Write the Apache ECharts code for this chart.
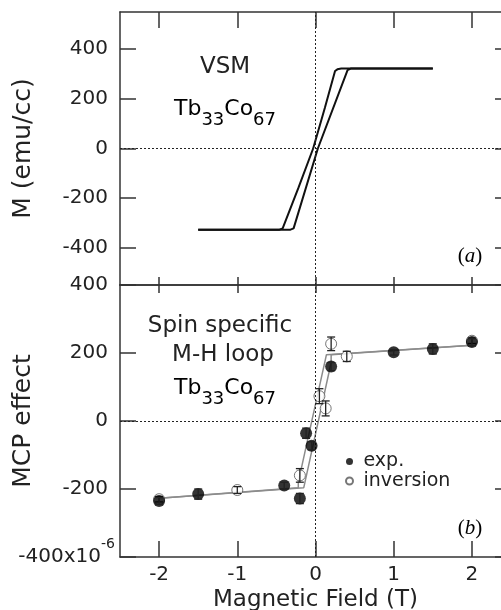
<!DOCTYPE html>
<html>
<head>
<meta charset="utf-8">
<script src="https://cdn.jsdelivr.net/npm/echarts@6/dist/echarts.min.js"></script>
<style>
html,body{margin:0;padding:0;background:#fff;}
#chart{width:501px;height:610px;}
</style>
</head>
<body>
<div id="chart"></div>
<script>
// ---------- data ----------
// (a) VSM loop, descending and ascending branches (field in T, M in emu/cc)
const vsmDescField = [1.5, 0.33, 0.28, 0.25, 0.12, -0.03, -0.22, -0.42, -0.46, -1.5];
const vsmDescM     = [322, 322, 319, 312, 164, 0, -160, -322, -327, -327];
const vsmAscField  = [-1.5, -0.32, -0.28, -0.26, 0.03, 0.41, 0.45, 1.5];
const vsmAscM      = [-327, -327, -322, -314, 0, 316, 322, 322];

// (b) MCP effect (x1e-6)
const expField = [-2, -1.5, -0.4, -0.2, -0.12, -0.05, 0.2, 1, 1.5, 2];
const expMCP   = [-235, -215, -190, -228, -36, -73, 160, 202, 212, 232];
const expErr   = [10, 15, 10, 15, 15, 12, 12, 8, 15, 10];

const invField = [-2, -1, -0.2, 0.05, 0.13, 0.2, 0.4, 2];
const invMCP   = [-230, -203, -160, 73, 37, 227, 190, 236];
const invErr   = [8, 10, 20, 22, 22, 20, 15, 8];

// gray guide loop
const fitAField = [-2, -0.22, -0.22, 0.14, 2];
const fitAMCP   = [-227, -196, -180, 195, 223];
const fitBField = [-2, -0.15, 0.2, 0.2, 2];
const fitBMCP   = [-227, -196, 172, 195, 223];

const fieldTicks = [-2, -1, 0, 1, 2];
const mTicks = [-400, -200, 0, 200, 400];
const mcpTicks = [-400, -200, 0, 200, 400];

// ---------- chart ----------
const FONT = '"DejaVu Sans", sans-serif';
const TXT = '#222';
const AX = '#333';
const zip = (a, b) => a.map((v, i) => [v, b[i]]);

const chart = echarts.init(document.getElementById('chart'), null, {renderer: 'canvas'});

function xAx(grid, pos, len, labels, extra) {
  return Object.assign({
    type: 'value', gridIndex: grid, position: pos, min: -2.5, max: 2.5,
    axisLine: {show: true, onZero: false, lineStyle: {color: AX, width: 1.5}},
    axisTick: {show: true, inside: true, length: len, customValues: fieldTicks, lineStyle: {color: AX, width: 1.5}},
    axisLabel: {show: labels, customValues: fieldTicks, color: TXT, fontSize: 20, fontFamily: FONT, margin: 8},
    splitLine: {show: false}
  }, extra || {});
}
function yAx(grid, pos, min, max, ticks, labels, extra) {
  return Object.assign({
    type: 'value', gridIndex: grid, position: pos, min: min, max: max,
    axisLine: {show: true, onZero: false, lineStyle: {color: AX, width: 1.5}},
    axisTick: {show: true, inside: true, length: 16, customValues: ticks, lineStyle: {color: AX, width: 1.5}},
    axisLabel: {show: labels, customValues: ticks, color: TXT, fontSize: 20, fontFamily: FONT, margin: 12},
    splitLine: {show: false}
  }, extra || {});
}

const zeroLines = {
  silent: true, symbol: 'none', label: {show: false},
  lineStyle: {type: [2, 2], color: '#222', width: 1},
  data: [{yAxis: 0}, {xAxis: 0}]
};

function errBar(params, api) {
  const x = api.value(0), y = api.value(1), e = api.value(2);
  const p1 = api.coord([x, y + e]), p2 = api.coord([x, y - e]);
  const st = {stroke: '#222', lineWidth: 1.3};
  return {type: 'group', children: [
    {type: 'line', shape: {x1: p1[0], y1: p1[1], x2: p2[0], y2: p2[1]}, style: st},
    {type: 'line', shape: {x1: p1[0] - 4, y1: p1[1], x2: p1[0] + 4, y2: p1[1]}, style: st},
    {type: 'line', shape: {x1: p2[0] - 4, y1: p2[1], x2: p2[0] + 4, y2: p2[1]}, style: st}
  ]};
}

const tbRich = {
  n: {fontSize: 22, fontFamily: FONT, lineHeight: 22, verticalAlign: 'top', color: TXT},
  s: {fontSize: 18, fontFamily: FONT, lineHeight: 18, verticalAlign: 'top', padding: [13, 0, 0, 0], color: TXT}
};
const abRich = {
  p: {fontSize: 21, fontFamily: '"Liberation Serif", serif', color: TXT},
  i: {fontSize: 21, fontFamily: '"Liberation Serif", serif', fontStyle: 'italic', color: TXT}
};

const option = {
  backgroundColor: '#fff',
  animation: false,
  grid: [
    {left: 120, top: 12, width: 391, height: 273, containLabel: false, outerBoundsMode: 'none'},
    {left: 120, top: 285, width: 391, height: 272, containLabel: false, outerBoundsMode: 'none'}
  ],
  xAxis: [
    xAx(0, 'bottom', 8, false),
    xAx(0, 'top', 16, false),
    xAx(1, 'bottom', 16, true, {
      name: 'Magnetic Field (T)', nameLocation: 'middle', nameGap: 32, nameMoveOverlap: false,
      nameTextStyle: {fontSize: 23, fontFamily: FONT, color: TXT}
    }),
    xAx(1, 'top', 8, false)
  ],
  yAxis: [
    yAx(0, 'left', -550, 550, mTicks, true, {
      name: 'M (emu/cc)', nameLocation: 'middle', nameGap: 84, nameMoveOverlap: false,
      nameTextStyle: {fontSize: 25, fontFamily: FONT, color: TXT}
    }),
    yAx(0, 'right', -550, 550, mTicks, false),
    yAx(1, 'left', -400, 400, mcpTicks, true, {
      name: 'MCP effect', nameLocation: 'middle', nameGap: 84, nameMoveOverlap: false,
      nameTextStyle: {fontSize: 25, fontFamily: FONT, color: TXT}
    }),
    yAx(1, 'right', -400, 400, mcpTicks, false)
  ],
  legend: {
    left: 345, top: 452, orient: 'vertical', padding: 0, itemGap: 0.5,
    itemWidth: 18, itemHeight: 7,
    textStyle: {fontSize: 19, fontFamily: FONT, color: TXT, lineHeight: 18, padding: [0, 0, 0, 0]},
    data: [{name: 'exp.', icon: 'circle'}, {name: 'inversion', icon: 'circle'}]
  },
  graphic: [
    {type: 'text', x: 225, y: 67, style: {text: 'VSM', font: '23px ' + FONT, fill: TXT, align: 'center', verticalAlign: 'middle'}},
    {type: 'text', x: 225, y: 109, style: {text: '{n|Tb}{s|33}{n|Co}{s|67}', rich: tbRich, align: 'center', verticalAlign: 'middle'}},
    {type: 'text', x: 220, y: 326, style: {text: 'Spin specific', font: '23px ' + FONT, fill: TXT, align: 'center', verticalAlign: 'middle'}},
    {type: 'text', x: 223, y: 355, style: {text: 'M-H loop', font: '23px ' + FONT, fill: TXT, align: 'center', verticalAlign: 'middle'}},
    {type: 'text', x: 225, y: 388, style: {text: '{n|Tb}{s|33}{n|Co}{s|67}', rich: tbRich, align: 'center', verticalAlign: 'middle'}},
    {type: 'text', x: 470, y: 256, style: {text: '{p|(}{i|a}{p|)}', rich: abRich, align: 'center', verticalAlign: 'middle'}},
    {type: 'text', x: 470, y: 528, style: {text: '{p|(}{i|b}{p|)}', rich: abRich, align: 'center', verticalAlign: 'middle'}}
  ],
  series: [
    {type: 'line', name: 'vsm-desc', xAxisIndex: 0, yAxisIndex: 0, data: zip(vsmDescField, vsmDescM),
     symbol: 'none', lineStyle: {color: '#111', width: 2}, z: 3, markLine: zeroLines},
    {type: 'line', name: 'vsm-asc', xAxisIndex: 0, yAxisIndex: 0, data: zip(vsmAscField, vsmAscM),
     symbol: 'none', lineStyle: {color: '#111', width: 2}, z: 3},
    {type: 'line', name: 'fitA', xAxisIndex: 2, yAxisIndex: 2, data: zip(fitAField, fitAMCP),
     symbol: 'none', lineStyle: {color: '#8c8c8c', width: 1.5}, z: 2, markLine: zeroLines},
    {type: 'line', name: 'fitB', xAxisIndex: 2, yAxisIndex: 2, data: zip(fitBField, fitBMCP),
     symbol: 'none', lineStyle: {color: '#8c8c8c', width: 1.5}, z: 2},
    {type: 'scatter', name: 'inversion', xAxisIndex: 2, yAxisIndex: 2, data: zip(invField, invMCP),
     symbol: 'circle', symbolSize: 11, itemStyle: {color: '#fff', borderColor: '#555', borderWidth: 1}, z: 3},
    {type: 'custom', name: 'invErr', xAxisIndex: 2, yAxisIndex: 2, renderItem: errBar,
     data: invField.map((x, i) => [x, invMCP[i], invErr[i]]), encode: {x: 0, y: 1}, z: 4},
    {type: 'scatter', name: 'exp.', xAxisIndex: 2, yAxisIndex: 2, data: zip(expField, expMCP),
     symbol: 'circle', symbolSize: 12, itemStyle: {color: '#000'}, z: 5},
    {type: 'custom', name: 'expErr', xAxisIndex: 2, yAxisIndex: 2, renderItem: errBar,
     data: expField.map((x, i) => [x, expMCP[i], expErr[i]]), encode: {x: 0, y: 1}, z: 6}
  ]
};

// bottom-panel -400 label with the x10^-6 multiplier
option.yAxis[2].axisLabel.formatter = function (v) {
  return v === -400 ? '{m|-400x10}{s|-6}' : String(v);
};
option.yAxis[2].axisLabel.rich = {
  m: {fontSize: 20, fontFamily: FONT, color: TXT, lineHeight: 20, verticalAlign: 'bottom'},
  s: {fontSize: 14, fontFamily: FONT, color: TXT, lineHeight: 14, verticalAlign: 'bottom', padding: [0, -7, 16, 0]}
};

chart.setOption(option);
</script>
</body>
</html>
